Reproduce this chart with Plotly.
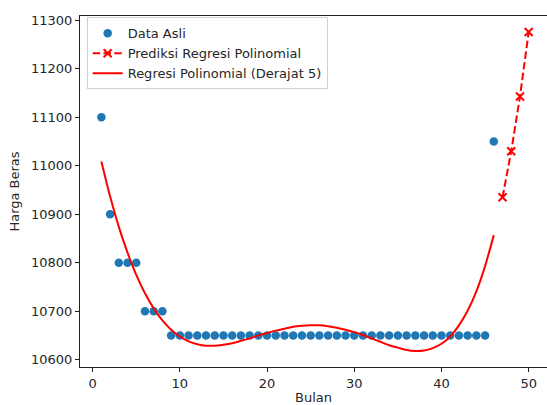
import plotly.graph_objects as go

# Original data (Bulan 1..46)
bulan = list(range(1, 47))
harga = [11100, 10900, 10800, 10800, 10800, 10700, 10700, 10700] + [10650] * 37 + [11050]

# Polynomial regression curve (degree 5), read at each month
kurva_x = list(range(1, 47))
kurva_y = [11009, 10937, 10874, 10821, 10775, 10737, 10706, 10681, 10662, 10648,
           10638, 10632, 10629, 10629, 10631, 10634, 10639, 10644, 10650, 10655,
           10660, 10664, 10668, 10670, 10671, 10671, 10669, 10666, 10662, 10657,
           10651, 10644, 10637, 10630, 10625, 10620, 10618, 10619, 10624, 10633,
           10648, 10671, 10701, 10741, 10793, 10857]

# Predictions
pred_x = [47, 48, 49, 50]
pred_y = [10935, 11030, 11143, 11276]

x_ticks = [0, 10, 20, 30, 40, 50]
y_ticks = [10600, 10700, 10800, 10900, 11000, 11100, 11200, 11300]

FONT = "DejaVu Sans"
TXT = "#262626"

fig = go.Figure()
fig.add_trace(go.Scatter(
    x=bulan, y=harga, mode="markers", name="Data Asli",
    marker=dict(color="#1f77b4", size=8.5, line=dict(width=0)),
))
fig.add_trace(go.Scatter(
    x=pred_x, y=pred_y, mode="lines+markers", name="Prediksi Regresi Polinomial",
    line=dict(color="red", width=2, dash="7.5px,3.3px"),
    marker=dict(symbol="x-thin", size=8, color="red", line=dict(color="red", width=2)),
))
fig.add_trace(go.Scatter(
    x=kurva_x, y=kurva_y, mode="lines", name="Regresi Polinomial (Derajat 5)",
    line=dict(color="red", width=2, shape="spline", smoothing=0.6),
))

fig.update_layout(
    width=547, height=405,
    margin=dict(l=80, r=0, t=16, b=38),
    paper_bgcolor="white", plot_bgcolor="white",
    font=dict(family=FONT, size=13, color=TXT),
    showlegend=True,
    legend=dict(
        x=0.0143, y=0.996, xanchor="left", yanchor="top",
        bgcolor="rgba(255,255,255,0.8)", bordercolor="#d0d0d0", borderwidth=1,
        font=dict(family=FONT, size=13, color=TXT),
        tracegroupgap=0, itemwidth=30,
    ),
    xaxis=dict(
        range=[-1.45, 52.1], tickvals=x_ticks, ticktext=[str(v) for v in x_ticks],
        showgrid=False, zeroline=False,
        showline=True, linecolor="#222", linewidth=1, mirror=True,
        ticks="outside", ticklen=4, tickwidth=1, tickcolor="#222",
        title=dict(text="Bulan", standoff=6, font=dict(family=FONT, size=13, color=TXT)),
        tickfont=dict(family=FONT, size=13, color=TXT),
    ),
    yaxis=dict(
        range=[10585, 11309], tickvals=y_ticks, ticktext=[str(v) for v in y_ticks],
        showgrid=False, zeroline=False,
        showline=True, linecolor="#222", linewidth=1, mirror=False,
        ticks="outside", ticklen=4, tickwidth=1, tickcolor="#222",
        title=dict(text="Harga Beras", standoff=8, font=dict(family=FONT, size=13, color=TXT)),
        tickfont=dict(family=FONT, size=13, color=TXT),
    ),
)

fig.write_html(
    "out.html",
    config={"displayModeBar": False},
    post_script="document.body.style.margin='0';document.body.style.overflow='hidden';",
)
